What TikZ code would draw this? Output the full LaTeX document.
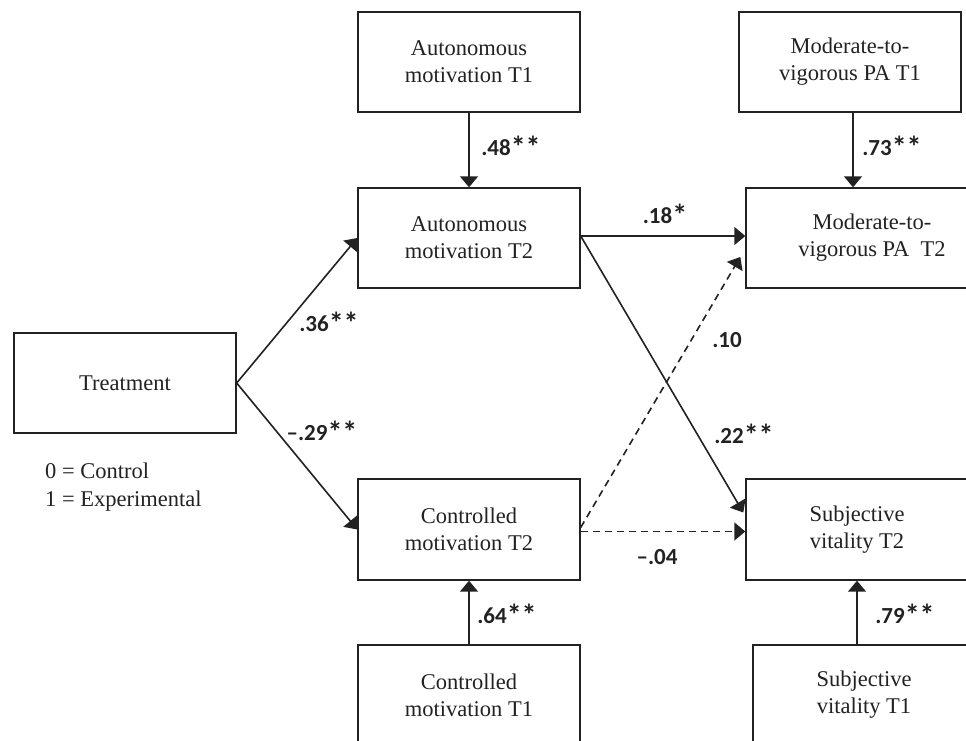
\documentclass[tikz,border=0pt]{standalone}
\usepackage{fontspec}
\setmainfont{Liberation Serif}
\newfontfamily\labfont{Carlito}
\usetikzlibrary{arrows.meta}
\definecolor{ink}{HTML}{222222}
\newcommand\bigstar{\raisebox{-2.5pt}{\fontsize{30}{30}\selectfont *}}
\tikzset{
  box/.style={draw=ink, line width=1.4pt, minimum width=222pt, minimum height=100pt, inner sep=0pt, align=center, text=ink, font=\fontsize{22.5}{27}\selectfont},
  conn/.style={draw=ink, line width=1.6pt, -{Triangle[length=11pt,width=18pt]}},
  dconn/.style={conn, dash pattern=on 7pt off 5pt},
  coef/.style={text=ink, font=\labfont\bfseries\fontsize{23}{26}\selectfont, inner sep=0pt},
  legend/.style={text=ink, font=\fontsize{22.5}{27}\selectfont, inner sep=0pt, anchor=base west}
}
\begin{document}
\begin{tikzpicture}[x=1pt,y=-1pt]
\useasboundingbox (0,0) rectangle (966,741);
\clip (0,0) rectangle (966,741);
\fill[white] (0,0) rectangle (966,741);
\node[box] (at1) at (469,62) {Autonomous\\motivation T1};
\node[box] (at2) at (469,238) {Autonomous\\motivation T2};
\node[box] (mv1) at (850,62) {Moderate-to-\\vigorous PA T1};
\node[box, minimum width=252pt] (mv2) at (872,238) {Moderate-to-\\vigorous PA\ \ T2};
\node[box] (tr) at (125,383) {Treatment};
\node[box, minimum height=101pt] (ct2) at (469,529.5) {Controlled\\motivation T2};
\node[box, minimum height=101pt] (sv2) at (857,529.5) {Subjective\\vitality T2};
\node[box] (ct1) at (469,695) {Controlled\\motivation T1};
\node[box] (sv1) at (864,695) {Subjective\\vitality T1};
\node[legend] (leg1) at (45,478) {0 = Control};
\node[legend] (leg2) at (45,506) {1 = Experimental};
% connectors
\draw[conn] (at1.south) -- (at2.north);
\draw[conn] ([xshift=3pt]mv1.south) -- ([xshift=3pt]mv1.south |- mv2.north);
\draw[conn] (ct1.north) -- (ct2.south);
\draw[conn] (sv1.north -| sv2.south) -- (sv2.south);
\draw[conn] (tr.east) -- (at2.west);
\draw[conn] (tr.east) -- (ct2.west);
\draw[conn] ([yshift=2pt]at2.east) -- ([yshift=2pt]mv2.west);
\draw[conn] ([yshift=2pt]at2.east) -- ([xshift=-2pt,yshift=17pt]sv2.west);
\draw[dconn] ([yshift=2pt]ct2.east) -- ([xshift=-5pt,yshift=-19pt]mv2.west);
\draw[dconn] ([yshift=-2pt]ct2.east) -- ([yshift=-2pt]sv2.west);
% coefficients
\node[coef] (c48) at (511,147) {.48\bigstar\bigstar};
\node[coef] (c73) at (892,147) {.73\bigstar\bigstar};
\node[coef] (c18) at (665,215) {.18\bigstar};
\node[coef] (c10) at (727,340) {.10};
\node[coef] (c36) at (329,323) {.36\bigstar\bigstar};
\node[coef] (c29) at (322,432) {–.29\bigstar\bigstar};
\node[coef] (c22) at (744,435) {.22\bigstar\bigstar};
\node[coef] (c04) at (657,557) {–.04};
\node[coef] (c64) at (507,615) {.64\bigstar\bigstar};
\node[coef] (c79) at (905,615) {.79\bigstar\bigstar};
\end{tikzpicture}
\end{document}
